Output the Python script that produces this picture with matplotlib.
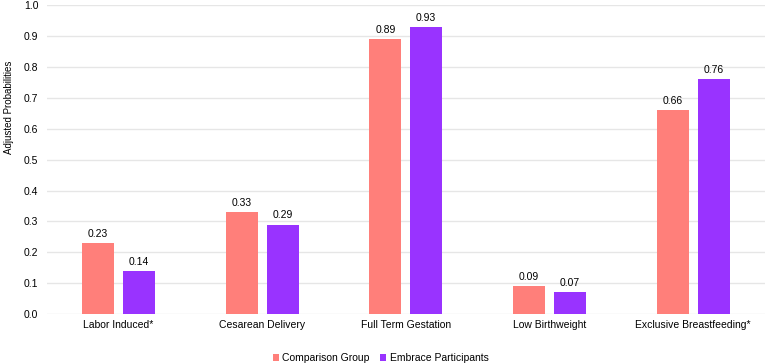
import numpy as np
import matplotlib.pyplot as plt

plt.rcParams['font.family'] = ['Liberation Sans', 'DejaVu Sans']

categorias = ['Labor Induced*', 'Cesarean Delivery', 'Full Term Gestation',
              'Low Birthweight', 'Exclusive Breastfeeding*']
comparacion = [0.23, 0.33, 0.89, 0.09, 0.66]
embrace = [0.14, 0.29, 0.93, 0.07, 0.76]

col_comp = '#FF7F7A'
col_emb = '#9933FF'

fig = plt.figure(figsize=(7.65, 3.64), dpi=100)
ax = fig.add_axes([0.061, 0.137, 0.939, 0.849])

x = np.arange(len(categorias))
ancho = 0.222
off = 0.142
b1 = ax.bar(x - off, comparacion, ancho, color=col_comp, label='Comparison Group')
b2 = ax.bar(x + off, embrace, ancho, color=col_emb, label='Embrace Participants')

for barras in (b1, b2):
    for b in barras:
        h = b.get_height()
        ax.annotate('%.2f' % h, (b.get_x() + b.get_width() / 2, h),
                    xytext=(0, 3), textcoords='offset points',
                    ha='center', va='bottom', fontsize=7.5)

ax.set_xlim(-0.5, len(categorias) - 0.5)
ax.set_ylim(0, 1.0)
ax.set_yticks(np.arange(0, 1.01, 0.1))
ax.set_yticklabels(['%.1f' % v for v in np.arange(0, 1.01, 0.1)], fontsize=7.5)
ax.set_xticks(x)
ax.set_xticklabels(categorias, fontsize=7.5)
ax.tick_params(length=0, pad=4)
ax.tick_params(axis='y', pad=6)
ax.set_ylabel('Adjusted Probabilities', fontsize=7)
ax.yaxis.set_label_coords(-0.045, 0.67)
ax.grid(axis='y', color='#E6E6E6', linewidth=1)
ax.set_axisbelow(True)
for s in ax.spines.values():
    s.set_visible(False)

ax.legend(loc='upper center', bbox_to_anchor=(0.465, -0.095), ncol=2,
          frameon=False, fontsize=7.5, handlelength=0.6, handleheight=0.6,
          handletextpad=0.3, columnspacing=1.0)

plt.savefig('out.png', dpi=100)
